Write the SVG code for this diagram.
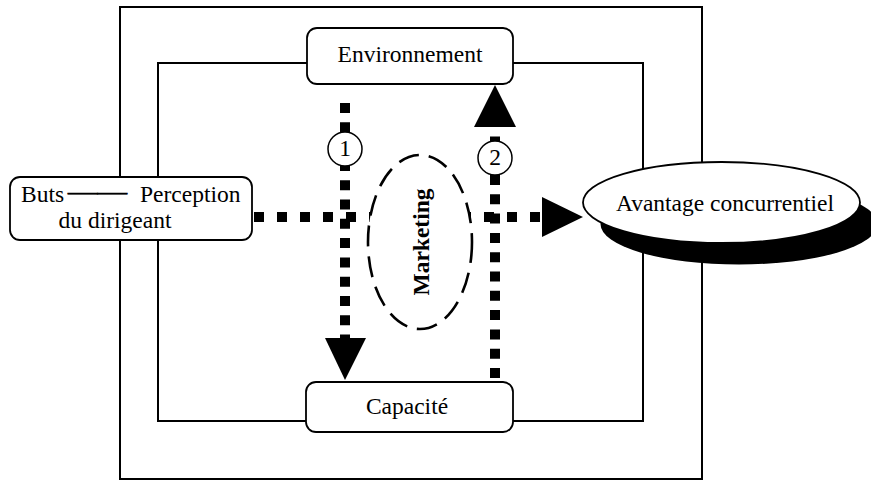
<svg xmlns="http://www.w3.org/2000/svg" width="871" height="493" viewBox="0 0 871 493">
<style>
.frame{fill:none;stroke:#000;stroke-width:2}
.box{fill:#fff;stroke:#000;stroke-width:1.8}
.t{font-family:"Liberation Serif","Times New Roman",serif;font-size:23.5px;fill:#000}
.dot{stroke:#000;stroke-width:10;fill:none}
.head{fill:#000}
.num{fill:#fff;stroke:#000;stroke-width:1.5}
</style>
<rect width="871" height="493" fill="#fff"/>
<g id="frames">
<rect class="frame" x="120" y="7" width="582" height="472"/>
<rect class="frame" x="158" y="63" width="485" height="358"/>
</g>
<g id="connectors">
<line class="dot" x1="254" y1="217" x2="542" y2="217" stroke-dasharray="10 13"/>
<polygon class="head" points="542,197 583,217 542,237"/>
<line class="dot" x1="345" y1="103" x2="345" y2="338" stroke-dasharray="10 9.3"/>
<polygon class="head" points="325,338 366,338 345,380"/>
<line class="dot" x1="495" y1="378" x2="495" y2="127" stroke-dasharray="10 9.3"/>
<polygon class="head" points="474,127 516,127 495,85"/>
<g id="label1"><circle class="num" cx="345" cy="149" r="17"/><text class="t" x="345" y="156" text-anchor="middle" font-size="20">1</text></g>
<g id="label2"><circle class="num" cx="495" cy="158" r="17"/><text class="t" x="495" y="165" text-anchor="middle" font-size="20">2</text></g>
</g>
<g id="marketing">
<ellipse cx="420" cy="242" rx="52" ry="87" fill="#fff" stroke="#000" stroke-width="2.6" stroke-dasharray="21 10"/>
<text class="t" transform="translate(429,242) rotate(-90)" text-anchor="middle" font-weight="bold" font-size="23.5">Marketing</text>
</g>
<g id="environnement">
<rect class="box" x="307" y="28" width="206" height="56" rx="10"/>
<text class="t" x="410" y="62" text-anchor="middle">Environnement</text>
</g>
<g id="capacite">
<rect class="box" x="306" y="382" width="207" height="50" rx="10"/>
<text class="t" x="407" y="414" text-anchor="middle">Capacité</text>
</g>
<g id="buts">
<rect class="box" x="10" y="177" width="242" height="63" rx="10"/>
<text class="t" y="202"><tspan x="21">Buts</tspan><tspan x="68" dy="-3" textLength="59" lengthAdjust="spacingAndGlyphs" stroke="#000" stroke-width="0.7">——</tspan><tspan x="140" dy="3">Perception</tspan></text>
<text class="t" x="115" y="228" text-anchor="middle">du dirigeant</text>
</g>
<g id="avantage">
<ellipse cx="739" cy="224" rx="138.5" ry="40.5" fill="#000"/>
<ellipse cx="721.5" cy="202.5" rx="138.5" ry="40.5" fill="#fff" stroke="#000" stroke-width="1.8"/>
<text class="t" x="725" y="211" text-anchor="middle" font-size="24">Avantage concurrentiel</text>
</g>
</svg>
